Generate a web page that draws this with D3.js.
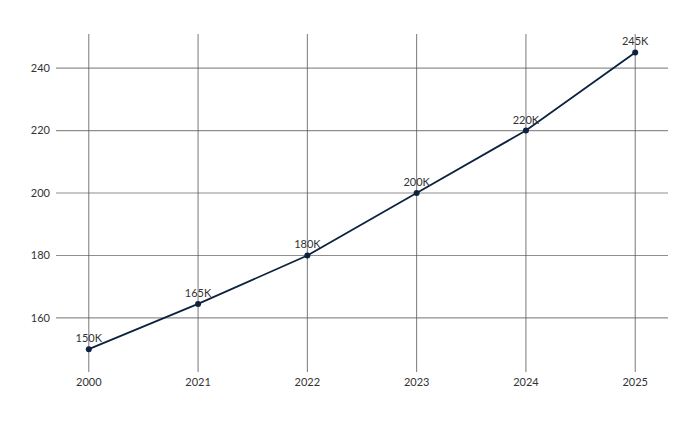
<!DOCTYPE html>
<html>
<head>
<meta charset="utf-8">
<script src="https://cdn.jsdelivr.net/npm/d3@7"></script>
<style>
  body { margin: 0; background: #fff; }
  text { font-family: Lato, "Open Sans", sans-serif; fill: #333; }
</style>
</head>
<body>
<svg id="chart" width="700" height="422"></svg>
<script>
const years = ["2000", "2021", "2022", "2023", "2024", "2025"];
const values = [150, 164.5, 180, 200, 220, 245];
const pointLabels = ["150K", "165K", "180K", "200K", "220K", "245K"];
const yTicks = [160, 180, 200, 220, 240];

const svg = d3.select("#chart");
const plotLeft = 56, plotRight = 668, plotTop = 34, plotBottom = 372;

const x = d3.scalePoint().domain(years).range([plotLeft, plotRight]).padding(0.3);
const y = d3.scaleLinear().domain([142.7, 250.9]).range([plotBottom, plotTop]);

// grid
svg.append("g").selectAll("line").data(yTicks).join("line")
    .attr("x1", plotLeft).attr("x2", plotRight)
    .attr("y1", d => y(d)).attr("y2", d => y(d))
    .attr("stroke", "#8f8f8f").attr("stroke-width", 1.2);

svg.append("g").selectAll("line").data(years).join("line")
    .attr("x1", d => x(d)).attr("x2", d => x(d))
    .attr("y1", plotTop).attr("y2", plotBottom)
    .attr("stroke", "#555").attr("stroke-width", 0.8);

// axis labels
svg.append("g").selectAll("text").data(yTicks).join("text")
    .attr("x", plotLeft - 6).attr("y", d => y(d)).attr("dy", "0.35em")
    .attr("text-anchor", "end").attr("font-size", 11)
    .text(d => d);

svg.append("g").selectAll("text").data(years).join("text")
    .attr("x", d => x(d)).attr("y", plotBottom + 10).attr("dy", "0.35em")
    .attr("text-anchor", "middle").attr("font-size", 11)
    .text(d => d);

// line
const pts = years.map((d, i) => [x(d), y(values[i])]);
svg.append("path")
    .attr("d", d3.line()(pts))
    .attr("fill", "none").attr("stroke", "#0c2340").attr("stroke-width", 1.8);

svg.append("g").selectAll("circle").data(pts).join("circle")
    .attr("cx", d => d[0]).attr("cy", d => d[1]).attr("r", 3)
    .attr("fill", "#0c2340");

svg.append("g").selectAll("text").data(pts).join("text")
    .attr("x", d => d[0]).attr("y", d => d[1] - 7)
    .attr("text-anchor", "middle").attr("font-size", 11)
    .text((d, i) => pointLabels[i]);
</script>
</body>
</html>
